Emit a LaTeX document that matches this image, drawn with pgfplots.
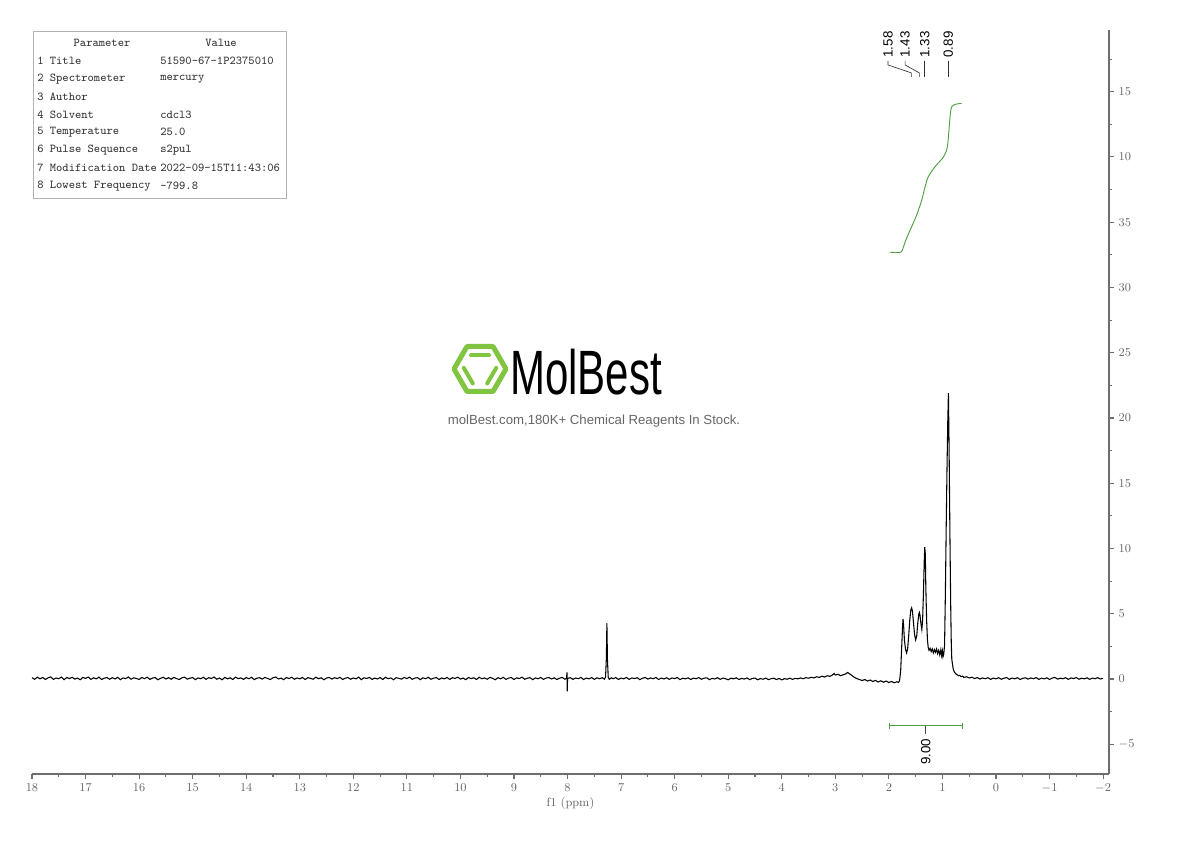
\documentclass[border=0pt]{standalone}
\usepackage{pgfplots}
\pgfplotsset{compat=1.18}
\usepackage{fontspec}
\newfontfamily\arial{Liberation Sans}

\definecolor{axisgray}{RGB}{110,110,110}
\definecolor{labelgray}{RGB}{100,100,100}
\definecolor{intgreen}{RGB}{78,160,66}
\definecolor{logogreen}{RGB}{128,196,64}

\begin{document}
\begin{tikzpicture}
\path[use as bounding box] (0,0) rectangle (892.5pt,630.75pt);

% parameter table and logo, laid out in pixel units from the top-left corner
\begin{scope}[x=0.75pt,y=-0.75pt,yshift=630.75pt]
  \draw[gray!60,line width=0.6pt] (33,31) rectangle (286,198);
  \begin{scope}[every node/.style={inner sep=0,font=\ttfamily\fontsize{9}{10}\selectfont,text=black!80}]
    \node at (102,43) {Parameter};
    \node at (221,43) {Value};
    \node[anchor=west] at (37,61)  {1 Title};
    \node[anchor=west] at (37,79)  {2 Spectrometer};
    \node[anchor=west] at (37,97)  {3 Author};
    \node[anchor=west] at (37,115) {4 Solvent};
    \node[anchor=west] at (37,132) {5 Temperature};
    \node[anchor=west] at (37,150) {6 Pulse Sequence};
    \node[anchor=west] at (37,168) {7 Modification Date};
    \node[anchor=west] at (37,186) {8 Lowest Frequency};
    \node[anchor=west] at (160,61)  {51590-67-1P2375010};
    \node[anchor=west] at (160,79)  {mercury};
    \node[anchor=west] at (160,115) {cdcl3};
    \node[anchor=west] at (160,132) {25.0};
    \node[anchor=west] at (160,150) {s2pul};
    \node[anchor=west] at (160,168) {2022-09-15T11:43:06};
    \node[anchor=west] at (160,186) {-799.8};
  \end{scope}
  % logo
  \draw[logogreen,line width=3.75pt,line join=round]
    (506,369) -- (493,346.5) -- (467,346.5) -- (454,369) -- (467,391.5) -- (493,391.5) -- cycle;
  \draw[logogreen,line width=3pt,line cap=round] (471,355.5) -- (489,355.5);
  \draw[logogreen,line width=3pt,line cap=round] (463.8,367.9) -- (472.8,383.5);
  \draw[logogreen,line width=3pt,line cap=round] (496.2,367.9) -- (487.2,383.5);
  \node[anchor=base west,inner sep=0] at (510,395)
    {\scalebox{0.67}[1]{\arial\fontsize{47}{47}\selectfont MolBest}};
  \node[inner sep=0,text=black!60] at (594,421)
    {\arial\fontsize{9.9}{11}\selectfont molBest.com,180K+ Chemical Reagents In Stock.};
\end{scope}

\begin{axis}[
  at={(24pt,50.25pt)}, anchor=south west,
  scale only axis, width=807.75pt, height=558pt,
  x dir=reverse, xmin=-2.11, xmax=18,
  ymin=-7.28, ymax=49.73,
  axis x line*=bottom, axis y line*=right,
  axis line style={axisgray,line width=0.9pt},
  every tick/.style={axisgray,line width=0.8pt},
  tick align=outside,
  major tick length=3.75pt, minor tick length=2.25pt,
  xtick={-2,-1,...,18},
  minor xtick={-1.5,-0.5,...,17.5},
  ytick={-5,0,...,45},
  yticklabels={$-5$,$0$,$5$,$10$,$15$,$20$,$25$,$30$,$35$,$10$,$15$},
  minor ytick={-2.5,2.5,...,47.5},
  tick label style={font=\fontsize{9}{10}\selectfont,text=labelgray},
  xlabel={f1 (ppm)},
  xlabel style={font=\fontsize{9}{10}\selectfont,text=labelgray,yshift=3pt},
  clip=false,
]
% 1H spectrum trace
\addplot[black,line width=0.8pt] table {
x y
18.00 0.10
17.95 -0.02
17.90 0.14
17.85 0.01
17.80 0.12
17.75 -0.04
17.70 0.09
17.65 0.16
17.60 -0.03
17.55 0.08
17.50 0.02
17.45 0.15
17.40 -0.05
17.35 0.11
17.30 0.03
17.25 0.13
17.20 -0.01
17.15 0.07
17.10 -0.06
17.05 0.12
17.00 0.04
16.95 0.15
16.90 -0.03
16.85 0.09
16.80 0.01
16.75 0.14
16.70 -0.04
16.65 0.06
16.60 0.11
16.55 -0.02
16.50 0.10
16.45 0.00
16.40 0.13
16.35 -0.05
16.30 0.08
16.25 0.03
16.20 0.15
16.15 -0.02
16.10 0.09
16.05 0.04
16.00 -0.04
15.95 0.12
15.90 0.02
15.85 0.14
15.80 -0.03
15.75 0.07
15.70 0.11
15.65 -0.06
15.60 0.05
15.55 0.13
15.50 0.00
15.45 0.10
15.40 -0.02
15.35 0.12
15.30 0.03
15.25 -0.04
15.20 0.09
15.15 0.14
15.10 -0.01
15.05 0.06
15.00 0.11
14.95 -0.05
14.90 0.08
14.85 0.02
14.80 0.13
14.75 -0.03
14.70 0.10
14.65 0.04
14.60 0.15
14.55 -0.02
14.50 0.07
14.45 -0.06
14.40 0.12
14.35 0.01
14.30 0.09
14.25 -0.04
14.20 0.14
14.15 0.03
14.10 0.08
14.05 -0.03
14.00 0.11
13.95 0.02
13.90 0.13
13.85 -0.05
13.80 0.06
13.75 0.10
13.70 -0.01
13.65 0.12
13.60 0.04
13.55 -0.04
13.50 0.09
13.45 0.15
13.40 0.00
13.35 0.07
13.30 -0.05
13.25 0.11
13.20 0.03
13.15 0.13
13.10 -0.02
13.05 0.08
13.00 0.01
12.95 0.12
12.90 -0.04
12.85 0.10
12.80 0.05
12.75 -0.02
12.70 0.14
12.65 0.02
12.60 0.09
12.55 -0.06
12.50 0.07
12.45 0.12
12.40 -0.01
12.35 0.10
12.30 0.03
12.25 0.13
12.20 -0.04
12.15 0.06
12.10 0.11
12.05 -0.02
12.00 0.08
11.95 0.01
11.90 0.14
11.85 -0.05
11.80 0.09
11.75 0.04
11.70 0.12
11.65 -0.03
11.60 0.07
11.55 0.00
11.50 0.11
11.45 -0.04
11.40 0.13
11.35 0.02
11.30 0.08
11.25 -0.06
11.20 0.10
11.15 0.05
11.10 -0.01
11.05 0.12
11.00 0.03
10.95 0.14
10.90 -0.03
10.85 0.07
10.80 0.10
10.75 -0.05
10.70 0.09
10.65 0.02
10.60 0.13
10.55 -0.02
10.50 0.06
10.45 0.11
10.40 -0.04
10.35 0.08
10.30 0.01
10.25 0.12
10.20 -0.03
10.15 0.10
10.10 0.04
10.05 0.14
10.00 -0.01
9.95 0.07
9.90 -0.05
9.85 0.11
9.80 0.03
9.75 0.09
9.70 -0.04
9.65 0.13
9.60 0.02
9.55 0.08
9.50 -0.02
9.45 0.12
9.40 0.05
9.35 -0.06
9.30 0.10
9.25 0.01
9.20 0.13
9.15 -0.03
9.10 0.07
9.05 0.11
9.00 -0.04
8.95 0.09
8.90 0.03
8.85 0.14
8.80 -0.02
8.75 0.06
8.70 0.10
8.65 -0.05
8.60 0.08
8.55 0.02
8.50 0.12
8.45 -0.03
8.40 0.07
8.35 0.11
8.30 0.00
8.25 0.09
8.20 -0.04
8.15 0.06
8.10 0.12
8.05 -0.02
8.02 0.06
8.01 0.50
8.005 -0.95
8.00 0.04
7.95 0.10
7.90 -0.03
7.85 0.08
7.80 0.02
7.75 0.12
7.70 -0.04
7.65 0.07
7.60 0.01
7.55 0.11
7.50 -0.03
7.45 0.09
7.40 0.02
7.35 0.10
7.31 -0.02
7.29 0.15
7.275 1.6
7.265 4.27
7.255 1.5
7.24 0.12
7.22 -0.02
7.18 0.09
7.15 0.02
7.10 0.11
7.05 -0.04
7.00 0.07
6.95 0.01
6.90 0.12
6.85 -0.03
6.80 0.08
6.75 0.03
6.70 0.10
6.65 -0.05
6.60 0.06
6.55 0.11
6.50 -0.01
6.45 0.08
6.40 0.02
6.35 0.12
6.30 -0.04
6.25 0.07
6.20 0.00
6.15 0.10
6.10 -0.03
6.05 0.08
6.00 0.03
5.95 0.11
5.90 -0.05
5.85 0.06
5.80 0.01
5.75 0.09
5.70 -0.04
5.65 0.07
5.60 0.02
5.55 0.11
5.50 -0.02
5.45 0.06
5.40 0.09
5.35 -0.05
5.30 0.05
5.25 0.00
5.20 0.10
5.15 -0.03
5.10 0.07
5.05 0.02
5.00 -0.06
4.95 0.06
4.90 0.01
4.85 0.09
4.80 -0.04
4.75 0.05
4.70 -0.01
4.65 0.08
4.60 -0.05
4.55 0.04
4.50 0.07
4.45 -0.06
4.40 0.03
4.35 -0.02
4.30 0.07
4.25 -0.05
4.20 0.02
4.15 0.06
4.10 -0.04
4.05 0.04
4.00 -0.07
3.95 0.03
3.90 -0.02
3.85 0.06
3.80 -0.03
3.75 0.05
3.70 0.01
3.65 0.08
3.60 0.02
3.55 0.10
3.50 0.06
3.45 0.13
3.40 0.08
3.35 0.17
3.30 0.12
3.25 0.21
3.20 0.15
3.15 0.25
3.10 0.20
3.05 0.32
3.02 0.42
3.00 0.30
2.95 0.36
2.90 0.25
2.85 0.33
2.80 0.40
2.77 0.50
2.74 0.41
2.70 0.30
2.65 0.14
2.60 0.03
2.55 -0.04
2.50 -0.12
2.45 -0.04
2.40 -0.16
2.35 -0.08
2.30 -0.19
2.25 -0.11
2.20 -0.23
2.15 -0.14
2.10 -0.25
2.05 -0.16
2.00 -0.27
1.95 -0.19
1.90 -0.29
1.85 -0.21
1.82 -0.27
1.80 -0.12
1.78 0.6
1.76 2.5
1.745 4.0
1.735 4.6
1.725 4.1
1.71 3.0
1.69 2.3
1.67 2.0
1.65 2.3
1.63 3.3
1.61 4.5
1.59 5.3
1.575 5.45
1.56 5.2
1.54 4.3
1.52 3.4
1.50 3.0
1.48 3.3
1.46 4.3
1.44 5.0
1.43 5.1
1.42 4.9
1.40 4.2
1.385 3.8
1.37 4.5
1.355 6.5
1.34 9.0
1.33 10.1
1.32 9.6
1.31 7.0
1.295 4.5
1.28 3.0
1.265 2.4
1.25 2.2
1.23 2.35
1.21 2.1
1.19 2.3
1.17 2.0
1.15 2.25
1.13 2.05
1.11 2.3
1.09 1.95
1.07 2.2
1.05 1.85
1.03 2.25
1.015 1.8
1.00 2.15
0.99 1.7
0.975 1.9
0.96 2.6
0.945 6.5
0.93 11.5
0.915 16.0
0.90 19.8
0.888 21.9
0.875 17.5
0.86 11.0
0.845 5.5
0.835 2.8
0.825 1.5
0.80 0.8
0.78 0.55
0.76 0.45
0.74 0.35
0.72 0.32
0.70 0.25
0.68 0.28
0.65 0.18
0.62 0.22
0.60 0.12
0.55 0.17
0.50 0.08
0.45 0.14
0.40 0.03
0.35 0.11
0.30 -0.01
0.25 0.08
0.20 0.02
0.15 0.10
0.10 -0.03
0.05 0.07
0.00 0.01
-0.05 0.10
-0.10 -0.02
-0.15 0.06
-0.20 0.11
-0.25 -0.03
-0.30 0.07
-0.35 0.01
-0.40 0.10
-0.45 -0.04
-0.50 0.05
-0.55 0.09
-0.60 -0.01
-0.65 0.08
-0.70 0.02
-0.75 0.11
-0.80 -0.03
-0.85 0.06
-0.90 0.01
-0.95 0.09
-1.00 -0.04
-1.05 0.07
-1.10 0.12
-1.15 -0.01
-1.20 0.06
-1.25 0.02
-1.30 0.10
-1.35 -0.03
-1.40 0.08
-1.45 0.03
-1.50 0.11
-1.55 -0.02
-1.60 0.06
-1.65 0.01
-1.70 0.09
-1.75 -0.03
-1.80 0.07
-1.85 0.02
-1.90 0.10
-1.95 0.00
-2.00 0.05
};

% integral curve
\addplot[intgreen,line width=0.7pt,smooth] table {
x y
1.977 32.7
1.777 32.7
1.73 33.1
1.667 33.8
1.574 34.66
1.48 35.56
1.386 36.7
1.325 37.7
1.262 38.5
1.137 39.26
0.982 40.0
0.907 40.8
0.857 43.1
0.826 43.85
0.733 44.06
0.64 44.1
};

% integration bar
\addplot[intgreen,line width=0.7pt] coordinates {(1.99,-3.6) (0.63,-3.6)};
\addplot[intgreen,line width=0.7pt] coordinates {(1.99,-3.37) (1.99,-3.83)};
\addplot[intgreen,line width=0.7pt] coordinates {(0.63,-3.37) (0.63,-3.83)};
\addplot[black!70,line width=0.6pt] coordinates {(1.31,-3.6) (1.31,-4.2)};
\node[rotate=90,anchor=east,inner sep=0,font=\arial\fontsize{10}{11}\selectfont]
  at (axis cs:1.31,-4.55) {9.00};

% peak labels
\begin{scope}[every node/.style={rotate=90,anchor=west,inner sep=0,font=\arial\fontsize{10}{11}\selectfont}]
  \node at (axis cs:2.015,47.6) {1.58};
  \node at (axis cs:1.697,47.6) {1.43};
  \node at (axis cs:1.33,47.6) {1.33};
  \node at (axis cs:0.89,47.6) {0.89};
\end{scope}
\draw[black!80,line width=0.5pt] (axis cs:2.015,47.36) -- (axis cs:2.015,47.05) -- (axis cs:1.58,46.44) -- (axis cs:1.58,46.13);
\draw[black!80,line width=0.5pt] (axis cs:1.697,47.36) -- (axis cs:1.697,47.05) -- (axis cs:1.43,46.44) -- (axis cs:1.43,46.13);
\draw[black!80,line width=0.5pt] (axis cs:1.33,47.36) -- (axis cs:1.33,46.13);
\draw[black!80,line width=0.5pt] (axis cs:0.89,47.36) -- (axis cs:0.89,46.13);
\end{axis}
\end{tikzpicture}
\end{document}
